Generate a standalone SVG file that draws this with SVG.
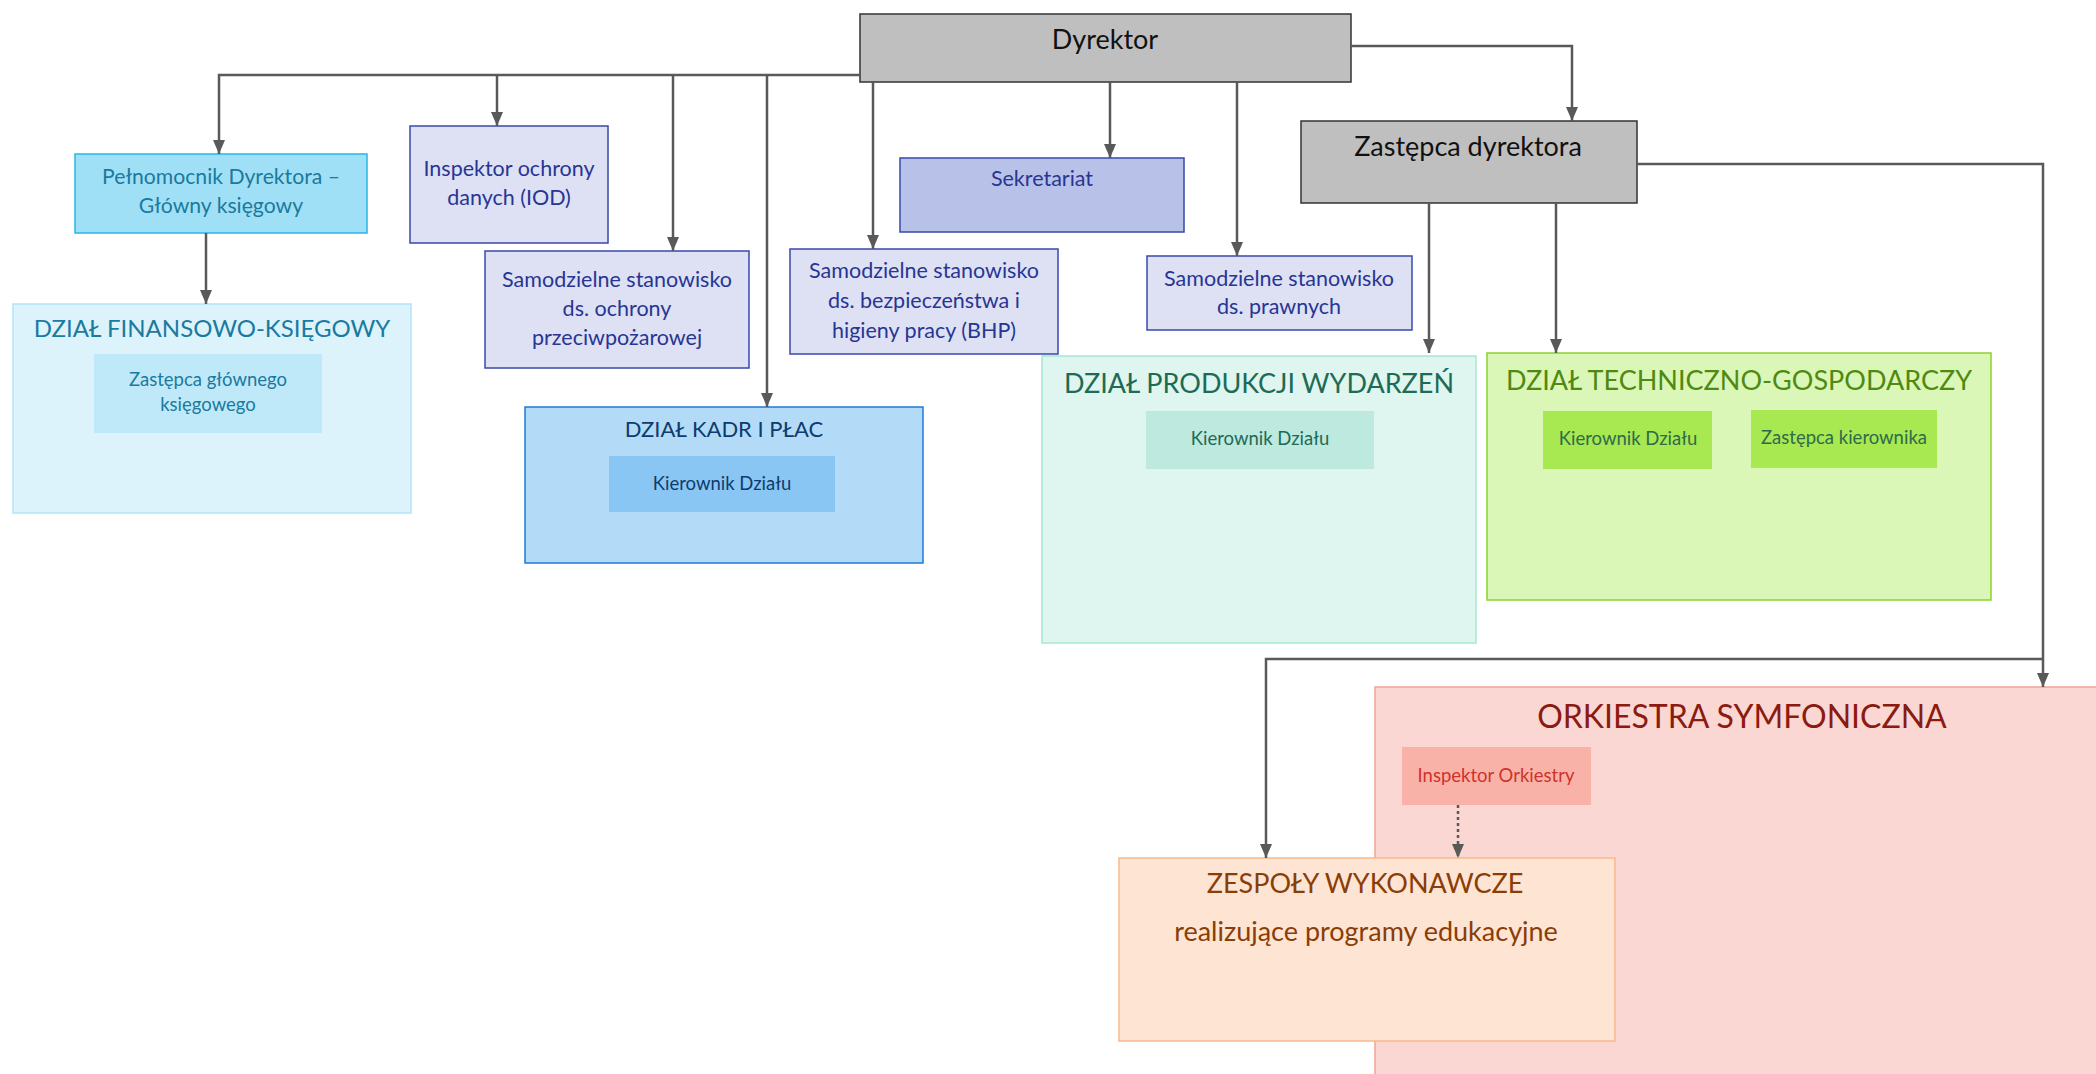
<svg xmlns="http://www.w3.org/2000/svg" width="2096" height="1074" viewBox="0 0 2096 1074">
<defs>
<marker id="ah" viewBox="0 0 14 12" refX="14" refY="6" markerWidth="14" markerHeight="12" markerUnits="userSpaceOnUse" orient="auto">
<path d="M0,0 L14,6 L0,12 z" fill="#595959"/>
</marker>
<style>
text{font-family:Lato,"Open Sans","Liberation Sans",sans-serif;text-anchor:middle}
.con{fill:none;stroke:#595959;stroke-width:2.5}
.dot{stroke-dasharray:3 3;stroke-width:2.5}
.gray{fill:#bfbfbf;stroke:#333;stroke-width:1.5}
.gray-t{font-size:27px;fill:#111}
.lav{fill:#dde1f3;stroke:#3949ab;stroke-width:1.5}
.lav2{fill:#b8c2e8;stroke:#3949ab;stroke-width:1.5}
.lav-t{font-size:21.5px;fill:#283593}
.cyan{fill:#a0e0f7;stroke:#29b6e6;stroke-width:1.5}
.cyan-t{font-size:21.2px;fill:#1a7a9c}
.fin{fill:#dcf3fc;stroke:#b3e5f8;stroke-width:1.5}
.fin-i{fill:#bfe9f9}
.fin-t{fill:#1a7aa0}
.kadr{fill:#b3dbf7;stroke:#1e7bd6;stroke-width:1.5}
.kadr-i{fill:#8ac6f4}
.kadr-t{fill:#0d3c6e}
.prod{fill:#dff5ef;stroke:#a8e6d3;stroke-width:1.5}
.prod-i{fill:#bde9df}
.prod-t{fill:#1d6b55}
.tech{fill:#dbf7b8;stroke:#8bd42d;stroke-width:1.5}
.tech-i{fill:#a8e850}
.tech-t{fill:#4f8a10}
.tech-t2{fill:#2e6b4c}
.ork{fill:#fad7d2;stroke:#f5a394;stroke-width:1.5}
.ork-i{fill:#f8b2a8}
.ork-t{fill:#8b1a10}
.ork-t2{fill:#d0322a}
.zesp{fill:#fee4d3;stroke:#f9b98b;stroke-width:1.5}
.zesp-t{fill:#8b3d07}
.small{font-size:18.5px}
</style>
</defs>
<rect width="2096" height="1074" fill="#fff"/>

<g id="orkiestra">
<rect class="ork" x="1375" y="687" width="740" height="400"/>
<text class="ork-t" x="1742" y="728" font-size="32">ORKIESTRA SYMFONICZNA</text>
</g>
<g id="inspektor-orkiestry">
<rect class="ork-i" x="1402" y="747" width="189" height="58"/>
<text class="ork-t2 small" x="1496" y="782">Inspektor Orkiestry</text>
</g>

<g id="dyrektor">
<rect class="gray" x="860" y="14" width="491" height="68"/>
<text class="gray-t" x="1105" y="49">Dyrektor</text>
</g>
<g id="zastepca-dyrektora">
<rect class="gray" x="1301" y="121" width="336" height="82"/>
<text class="gray-t" x="1468" y="156">Zastępca dyrektora</text>
</g>

<g id="pelnomocnik">
<rect class="cyan" x="75" y="154" width="292" height="79"/>
<text class="cyan-t" x="221" y="184">Pełnomocnik Dyrektora –</text>
<text class="cyan-t" x="221" y="213">Główny księgowy</text>
</g>

<g id="dzial-finansowo">
<rect class="fin" x="13" y="304" width="398" height="209"/>
<text class="fin-t" x="212" y="337" font-size="24">DZIAŁ FINANSOWO-KSIĘGOWY</text>
<rect class="fin-i" x="94" y="354" width="228" height="79"/>
<text class="fin-t small" x="208" y="386">Zastępca głównego</text>
<text class="fin-t small" x="208" y="411">księgowego</text>
</g>

<g id="iod">
<rect class="lav" x="410" y="126" width="198" height="117"/>
<text class="lav-t" x="509" y="176">Inspektor ochrony</text>
<text class="lav-t" x="509" y="205">danych (IOD)</text>
</g>

<g id="ochrona-ppoz">
<rect class="lav" x="485" y="251" width="264" height="117"/>
<text class="lav-t" x="617" y="287">Samodzielne stanowisko</text>
<text class="lav-t" x="617" y="316">ds. ochrony</text>
<text class="lav-t" x="617" y="345">przeciwpożarowej</text>
</g>

<g id="sekretariat">
<rect class="lav2" x="900" y="158" width="284" height="74"/>
<text class="lav-t" x="1042" y="186" font-size="19.5">Sekretariat</text>
</g>

<g id="bhp">
<rect class="lav" x="790" y="249" width="268" height="105"/>
<text class="lav-t" x="924" y="278">Samodzielne stanowisko</text>
<text class="lav-t" x="924" y="308">ds. bezpieczeństwa i</text>
<text class="lav-t" x="924" y="338">higieny pracy (BHP)</text>
</g>

<g id="prawne">
<rect class="lav" x="1147" y="256" width="265" height="74"/>
<text class="lav-t" x="1279" y="286">Samodzielne stanowisko</text>
<text class="lav-t" x="1279" y="314">ds. prawnych</text>
</g>

<g id="dzial-kadr">
<rect class="kadr" x="525" y="407" width="398" height="156"/>
<text class="kadr-t" x="724" y="437" font-size="22">DZIAŁ KADR I PŁAC</text>
<rect class="kadr-i" x="609" y="456" width="226" height="56"/>
<text class="kadr-t small" x="722" y="490">Kierownik Działu</text>
</g>

<g id="dzial-produkcji">
<rect class="prod" x="1042" y="356" width="434" height="287"/>
<text class="prod-t" x="1259" y="393" font-size="27">DZIAŁ PRODUKCJI WYDARZEŃ</text>
<rect class="prod-i" x="1146" y="411" width="228" height="58"/>
<text class="prod-t small" x="1260" y="445">Kierownik Działu</text>
</g>

<g id="dzial-techniczny">
<rect class="tech" x="1487" y="353" width="504" height="247"/>
<text class="tech-t" x="1739" y="390" font-size="27">DZIAŁ TECHNICZNO-GOSPODARCZY</text>
<rect class="tech-i" x="1543" y="411" width="169" height="58"/>
<text class="tech-t2 small" x="1628" y="445">Kierownik Działu</text>
<rect class="tech-i" x="1751" y="410" width="186" height="58"/>
<text class="tech-t2 small" x="1844" y="444">Zastępca kierownika</text>
</g>

<g id="zespoly">
<rect class="zesp" x="1119" y="858" width="496" height="183"/>
<text class="zesp-t" x="1365" y="893" font-size="27">ZESPOŁY WYKONAWCZE</text>
<text class="zesp-t" x="1366" y="941" font-size="27">realizujące programy edukacyjne</text>
</g>

<g id="connectors">
<path class="con" d="M860,75 H219 V154" marker-end="url(#ah)"/>
<path class="con" d="M497,75 V126" marker-end="url(#ah)"/>
<path class="con" d="M673,75 V251" marker-end="url(#ah)"/>
<path class="con" d="M767,75 V407" marker-end="url(#ah)"/>
<path class="con" d="M873,82 V249" marker-end="url(#ah)"/>
<path class="con" d="M1110,82 V158" marker-end="url(#ah)"/>
<path class="con" d="M1237,82 V256" marker-end="url(#ah)"/>
<path class="con" d="M1351,46 H1572 V121" marker-end="url(#ah)"/>
<path class="con" d="M206,233 V304" marker-end="url(#ah)"/>
<path class="con" d="M1429,203 V353" marker-end="url(#ah)"/>
<path class="con" d="M1556,203 V353" marker-end="url(#ah)"/>
<path class="con" d="M1637,164 H2043 V687" marker-end="url(#ah)"/>
<path class="con" d="M2043,659 H1266 V858" marker-end="url(#ah)"/>
<path class="con dot" d="M1458,805 V858" marker-end="url(#ah)"/>
</g>
</svg>
